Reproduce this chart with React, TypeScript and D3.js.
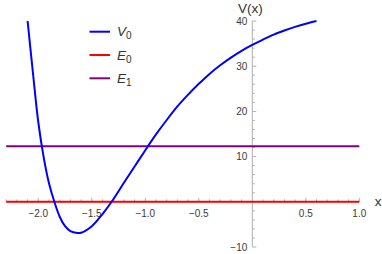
import React from "react";
import * as d3 from "d3";

// potential curve V0
const xs = [-2.1, -2.05, -2.0, -1.95, -1.9, -1.85, -1.8, -1.75, -1.7, -1.636, -1.6, -1.5, -1.4, -1.3, -1.2, -1.1, -1.0, -0.9, -0.8, -0.7, -0.6, -0.5, -0.4, -0.3, -0.2, -0.1, 0, 0.1, 0.2, 0.3, 0.4, 0.5, 0.6];
const v0 = [40, 28.5, 17.6, 9.9, 4.1, 0, -3.3, -5.4, -6.5, -6.9, -6.85, -5.4, -2.7, 0.5, 4.2, 7.8, 11.4, 14.9, 18.1, 21.1, 23.7, 26.1, 28.3, 30.2, 31.9, 33.4, 34.7, 35.9, 37.0, 37.9, 38.7, 39.4, 40];
const e0 = 0;
const e1 = 12.3;

const xTicks = [-2.0, -1.5, -1.0, -0.5, 0.5, 1.0];
const yTicks = [-10, 10, 20, 30, 40];

const W = 382;
const H = 254;
const font = "'Liberation Sans', Arial, sans-serif";

export default function App() {
  const x = d3.scaleLinear().domain([-2.3, 1.0]).range([6.2, 359.3]);
  const y = d3.scaleLinear().domain([-10, 40]).range([247, 21]);

  const line = d3
    .line<number>()
    .x((_, i) => x(xs[i]))
    .y((d) => y(d))
    .curve(d3.curveCatmullRom.alpha(0.5));

  const minorX = d3.range(-23, 11).map((i) => i / 10).filter((v) => Math.abs(v * 2 - Math.round(v * 2)) > 1e-6);
  const minorY = d3.range(-10, 41, 2).filter((v) => v % 10 !== 0);

  const fmt = (v: number) => (v < 0 ? "\u2212" + Math.abs(v).toFixed(1) : v.toFixed(1));

  const legend = [
    { name: "V", sub: "0", color: "#0000ff" },
    { name: "E", sub: "0", color: "#ff0000" },
    { name: "E", sub: "1", color: "#800080" },
  ];

  return (
    <svg width={W} height={H} style={{ position: "absolute", left: 0, top: 0, background: "#fff" }}>
      {/* axes */}
      <g stroke="#b0b0b0" strokeWidth={1}>
        <line x1={x(-2.3)} x2={x(1.0)} y1={y(0)} y2={y(0)} />
        <line x1={x(0)} x2={x(0)} y1={y(40)} y2={y(-10)} />
        {xTicks.map((t) => (
          <line key={"xt" + t} x1={x(t)} x2={x(t)} y1={y(0)} y2={y(0) - 4} />
        ))}
        {minorX.map((t) => (
          <line key={"xm" + t} x1={x(t)} x2={x(t)} y1={y(0)} y2={y(0) - 2.5} />
        ))}
        {yTicks.map((t) => (
          <line key={"yt" + t} x1={x(0)} x2={x(0) + 4} y1={y(t)} y2={y(t)} />
        ))}
        {minorY.map((t) => (
          <line key={"ym" + t} x1={x(0)} x2={x(0) + 2.5} y1={y(t)} y2={y(t)} />
        ))}
      </g>
      <g fontFamily={font} fontSize={10} fill="#3a3a3a">
        {xTicks.map((t) => (
          <text key={"xl" + t} x={x(t)} y={y(0) + 15} textAnchor="middle">
            {fmt(t)}
          </text>
        ))}
        {yTicks.map((t) => (
          <text key={"yl" + t} x={x(0) - 5} y={y(t) + 3.5} textAnchor="end">
            {t < 0 ? "\u2212" + Math.abs(t) : t}
          </text>
        ))}
      </g>
      <text x={x(0) - 2} y={12.5} textAnchor="middle" fontFamily={font} fontSize={13.5} fill="#333">
        V(x)
      </text>
      <text x={378} y={y(0) + 4} textAnchor="middle" fontFamily={font} fontSize={13.5} fill="#333">
        x
      </text>

      {/* energy levels */}
      <line x1={x(-2.3)} x2={x(1.0)} y1={y(e1)} y2={y(e1)} stroke="#800080" strokeWidth={2} />
      <line x1={x(-2.3)} x2={x(1.0)} y1={y(e0)} y2={y(e0)} stroke="#ff0000" strokeWidth={2} />

      {/* potential */}
      <path d={line(v0) || ""} fill="none" stroke="#0000ff" strokeWidth={2} />

      {/* legend */}
      <g fontFamily={font} fontSize={13.5} fill="#333">
        {legend.map((l, i) => {
          const ly = 31.7 + i * 23.3;
          return (
            <g key={"lg" + i}>
              <line x1={89.5} x2={110} y1={ly} y2={ly} stroke={l.color} strokeWidth={2} />
              <text x={117} y={ly + 4.5}>
                <tspan fontStyle="italic">{l.name}</tspan>
                <tspan fontSize={10} dy={3}>{l.sub}</tspan>
              </text>
            </g>
          );
        })}
      </g>
    </svg>
  );
}
